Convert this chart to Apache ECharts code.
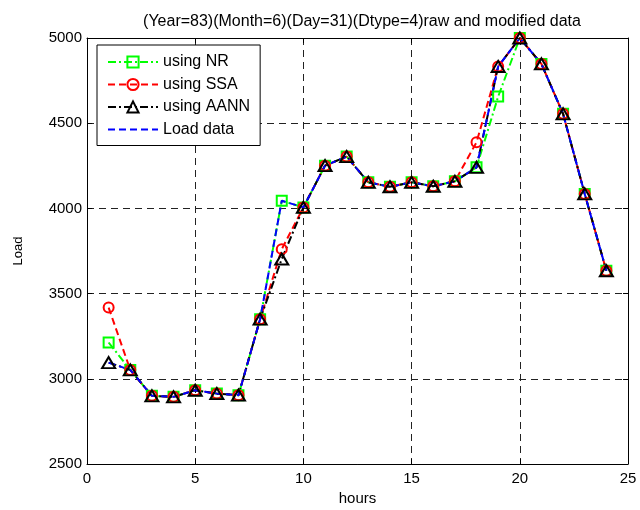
<!DOCTYPE html>
<html lang="en">
<head>
    <meta charset="UTF-8">
    <title>raw and modified data</title>
    <script src="https://cdn.jsdelivr.net/npm/echarts@6/dist/echarts.min.js"></script>
    <style>
        html, body { margin: 0; padding: 0; background: #fff; }
    </style>
</head>
<body>
<div id="container" style="width: 640px;height: 510px"></div>
<script>
    // hours 1..24
    var hours = [1,2,3,4,5,6,7,8,9,10,11,12,13,14,15,16,17,18,19,20,21,22,23,24];
    var nrData   = [3213,3052,2900,2894,2933,2913,2904,3350,4045,4006,4251,4304,4153,4127,4153,4130,4159,4241,4656,5000,4848,4555,4085,3634];
    var ssaData  = [3418,3052,2900,2894,2933,2913,2904,3350,3761,4006,4251,4304,4153,4127,4153,4130,4159,4388,4833,5000,4848,4555,4085,3634];
    var aannData = [3095,3052,2900,2894,2933,2913,2904,3350,3703,4006,4251,4304,4153,4127,4153,4130,4159,4241,4833,5000,4848,4555,4085,3634];
    var loadData = [3095,3052,2900,2894,2933,2913,2904,3350,4045,4006,4251,4304,4153,4127,4153,4130,4159,4241,4833,5000,4848,4555,4085,3634];
    var seriesNames = ['using NR', 'using SSA', 'using AANN', 'Load data'];

    function pairs(vals) {
        return hours.map(function (h, i) { return [h, vals[i]]; });
    }

    var font = 'Liberation Sans';
    var myChart = echarts.init(document.getElementById('container'));

    var gridLine = { show: true, lineStyle: { color: '#222', type: [7, 5], width: 1 } };
    var frame = { show: true, onZero: false, lineStyle: { color: '#000', width: 1 } };
    var inTick = { show: true, inside: true, length: 5, lineStyle: { color: '#000' } };

    var option = {
        animation: false,
        backgroundColor: '#fff',
        textStyle: { fontFamily: font },
        title: {
            text: '(Year=83)(Month=6)(Day=31)(Dtype=4)raw and modified data',
            left: 357, top: 9, textAlign: 'center',
            textStyle: { fontFamily: font, fontSize: 16, fontWeight: 'normal', color: '#000' }
        },
        grid: { left: 87, right: 12, top: 38, bottom: 46, outerBoundsMode: 'none', containLabel: false },
        legend: {
            orient: 'vertical', left: 97, top: 45,
            data: [
                { name: seriesNames[0] },
                { name: seriesNames[1] },
                { name: seriesNames[2] },
                { name: seriesNames[3], itemStyle: { color: 'rgba(0,0,0,0)', borderWidth: 0 } }
            ],
            itemWidth: 50, itemHeight: 14, itemGap: 6.5,
            padding: [9, 10, 8, 10],
            borderColor: '#000', borderWidth: 1,
            backgroundColor: '#fff',
            textStyle: { fontFamily: font, fontSize: 16, color: '#000' }
        },
        xAxis: [{
            type: 'value', min: 0, max: 25, interval: 5,
            name: 'hours', nameLocation: 'middle', nameGap: 27,
            nameTextStyle: { fontFamily: font, fontSize: 15, color: '#000' },
            axisLine: frame, axisTick: inTick, splitLine: gridLine,
            axisLabel: { color: '#000', fontSize: 15, fontFamily: font, margin: 7 }
        }, {
            type: 'value', min: 0, max: 25, interval: 5, position: 'top',
            axisLine: frame, axisTick: inTick, splitLine: { show: false },
            axisLabel: { show: false }
        }],
        yAxis: [{
            type: 'value', min: 2500, max: 5000, interval: 500,
            name: 'Load', nameLocation: 'middle', nameGap: 62, nameRotate: 90,
            nameTextStyle: { fontFamily: font, fontSize: 13, color: '#000' },
            axisLine: frame, axisTick: inTick, splitLine: gridLine,
            axisLabel: {
                color: '#000', fontSize: 15, fontFamily: font, margin: 5,
                formatter: function (v) { return String(v); }
            }
        }, {
            type: 'value', min: 2500, max: 5000, interval: 500, position: 'right',
            axisLine: frame, axisTick: inTick, splitLine: { show: false },
            axisLabel: { show: false }
        }],
        series: [{
            name: seriesNames[0], type: 'line', data: pairs(nrData),
            symbol: 'rect', symbolSize: 10,
            lineStyle: { color: '#00ff00', width: 2, type: [8, 3, 2, 3] },
            itemStyle: { color: 'rgba(255,255,255,0)', borderColor: '#00ff00', borderWidth: 2 }
        }, {
            name: seriesNames[1], type: 'line', data: pairs(ssaData),
            symbol: 'circle', symbolSize: 10,
            lineStyle: { color: '#ff0000', width: 2, type: [7, 4] },
            itemStyle: { color: 'rgba(255,255,255,0)', borderColor: '#ff0000', borderWidth: 2 }
        }, {
            name: seriesNames[2], type: 'line', data: pairs(aannData),
            symbol: 'triangle', symbolSize: [13, 11],
            lineStyle: { color: '#000000', width: 2, type: [8, 3, 2, 3] },
            itemStyle: { color: 'rgba(255,255,255,0)', borderColor: '#000000', borderWidth: 2 }
        }, {
            name: seriesNames[3], type: 'line', data: pairs(loadData),
            symbol: 'none', showSymbol: false,
            lineStyle: { color: '#0000ff', width: 2, type: [7, 4] },
            itemStyle: { color: '#0000ff' }
        }]
    };

    myChart.setOption(option);
</script>
</body>
</html>
